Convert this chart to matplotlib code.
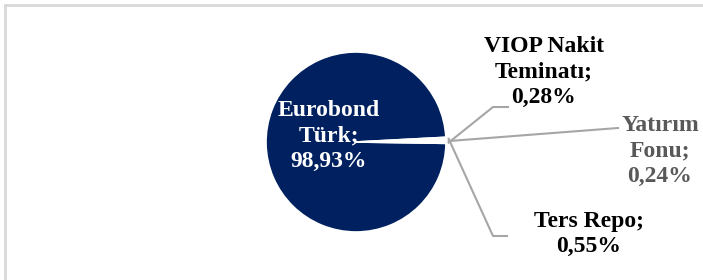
import numpy as np
import matplotlib.pyplot as plt

labels = ['Eurobond\nTürk;\n98,93%', 'VIOP Nakit\nTeminatı;\n0,28%', 'Yatırım\nFonu;\n0,24%', 'Ters Repo;\n0,55%']
values = [98.93, 0.28, 0.24, 0.55]
colors = ['#002060', 'white', 'white', 'white']

W, H = 703, 280
fig = plt.figure(figsize=(W / 100, H / 100), dpi=100)
ax = fig.add_axes([0, 0, 1, 1])

# chart frame (only top/left visible)
ax.plot([4.5, W], [H - 4.5, H - 4.5], color='#d9d9d9', lw=2, clip_on=False)
ax.plot([4.5, 4.5], [0, H - 4.5], color='#d9d9d9', lw=2, clip_on=False)

cx, cy, r = 356, 138, 90
wedges, _ = ax.pie(values, colors=colors, startangle=3, center=(cx, cy), radius=r,
                   wedgeprops=dict(edgecolor='white', linewidth=1.2), frame=True)
ax.set_xlim(0, W)
ax.set_ylim(0, H)
ax.set_aspect('equal')
ax.axis('off')

font = dict(family='Liberation Serif', fontweight='bold', fontsize=17)
line_col = '#a6a6a6'
ls = 1.28

# inner label
ax.text(329, H - 136, labels[0], color='white', ha='center', va='center', linespacing=ls, **font)

# anchor of leader lines at edge of the small slices
mids = [np.deg2rad((w.theta1 + w.theta2) / 2) for w in wedges[1:]]
anchors = [(cx + r * 1.03 * np.cos(a), cy + r * 1.03 * np.sin(a)) for a in mids]

# VIOP
ax.plot([anchors[0][0], 493, 508], [anchors[0][1], H - 107, H - 107], color=line_col, lw=1.5)
ax.text(544, H - 72, labels[1], color='black', ha='center', va='center', linespacing=ls, **font)
# Yatirim
ax.plot([anchors[1][0], 618], [anchors[1][1], H - 128], color=line_col, lw=1.5)
ax.text(660, H - 151, labels[2], color='#595959', ha='center', va='center', linespacing=ls, **font)
# Ters Repo
ax.plot([anchors[2][0], 493, 507], [anchors[2][1], H - 236, H - 236], color=line_col, lw=1.5)
ax.text(589, H - 234, labels[3], color='black', ha='center', va='center', linespacing=ls, **font)

fig.savefig('out.png', dpi=100)
